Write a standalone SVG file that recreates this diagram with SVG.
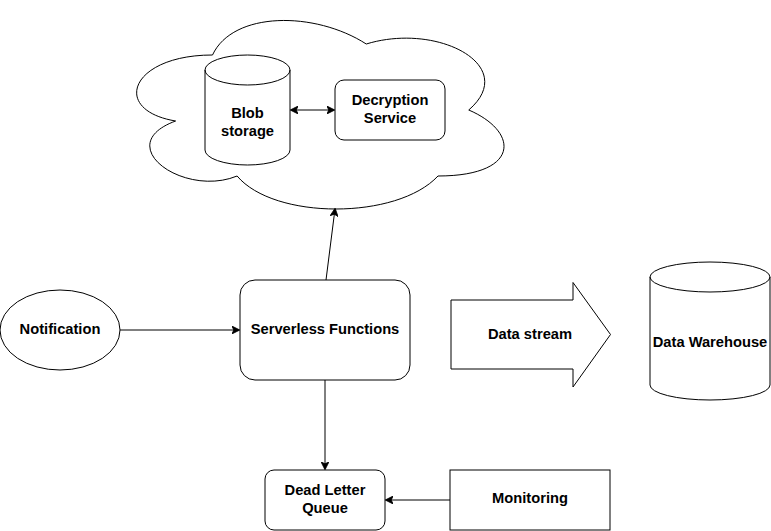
<svg xmlns="http://www.w3.org/2000/svg" width="771" height="531" viewBox="0 0 771 531">
<defs>
<marker id="arr" viewBox="0 0 10 10" refX="9" refY="5" markerWidth="8" markerHeight="8" markerUnits="userSpaceOnUse" orient="auto-start-reverse">
<path d="M0,0 L10,5 L0,10 L2.5,5 Z" fill="#000" stroke="#000" stroke-width="1"/>
</marker>
<style>
.s{fill:#fff;stroke:#000;stroke-width:1}
.t{font-family:"Liberation Sans",Arial,Helvetica,sans-serif;font-size:14.7px;font-weight:bold;fill:#000;text-anchor:middle;dominant-baseline:central}
.c{fill:none;stroke:#000;stroke-width:1}
</style>
</defs>
<rect width="771" height="531" fill="#fff"/>
<g id="cloud">
<path class="s" d="M212.5,55 C130.5,55 110,110 175.6,121 C110,145.2 183.8,198 237.1,176 C274,220 397,220 438,176 C520,176 520,132 468.75,110 C520,66 438,22 366.25,44 C315,11 233,11 212.5,55 Z"/>
</g>
<g id="blob">
<path class="s" d="M205,70 A42.5,15 0 0 1 290,70 L290,150 A42.5,15 0 0 1 205,150 Z"/>
<path class="c" d="M205,70 A42.5,15 0 0 0 290,70"/>
<text class="t" x="247.5" y="113">Blob</text>
<text class="t" x="247.5" y="131">storage</text>
</g>
<g id="decryption">
<rect class="s" x="335" y="80" width="110" height="60" rx="9" ry="9"/>
<text class="t" x="390" y="100">Decryption</text>
<text class="t" x="390" y="118">Service</text>
</g>
<g id="notification">
<ellipse class="s" cx="60" cy="330" rx="60" ry="40"/>
<text class="t" x="60" y="329">Notification</text>
</g>
<g id="serverless">
<rect class="s" x="240" y="280" width="170" height="100" rx="15" ry="15"/>
<text class="t" x="325" y="329">Serverless Functions</text>
</g>
<g id="datastream">
<path class="s" d="M451,300 L573,300 L573,282.5 L610.5,334.5 L573,387 L573,369 L451,369 Z"/>
<text class="t" x="530" y="334">Data stream</text>
</g>
<g id="warehouse">
<path class="s" d="M650,277 A60,15 0 0 1 770,277 L770,385 A60,15 0 0 1 650,385 Z"/>
<path class="c" d="M650,277 A60,15 0 0 0 770,277"/>
<text class="t" x="710" y="342">Data Warehouse</text>
</g>
<g id="dlq">
<rect class="s" x="265" y="470" width="120" height="60" rx="9" ry="9"/>
<text class="t" x="325" y="490">Dead Letter</text>
<text class="t" x="325" y="508">Queue</text>
</g>
<g id="monitoring">
<rect class="s" x="450" y="470" width="160" height="60"/>
<text class="t" x="530" y="498">Monitoring</text>
</g>
<g id="connectors">
<line class="c" x1="291" y1="110" x2="334" y2="110" marker-start="url(#arr)" marker-end="url(#arr)"/>
<line class="c" x1="120" y1="330" x2="239" y2="330" marker-end="url(#arr)"/>
<line class="c" x1="326" y1="280" x2="335" y2="209" marker-end="url(#arr)"/>
<line class="c" x1="325" y1="380" x2="325" y2="469" marker-end="url(#arr)"/>
<line class="c" x1="450" y1="500" x2="386" y2="500" marker-end="url(#arr)"/>
</g>
</svg>
